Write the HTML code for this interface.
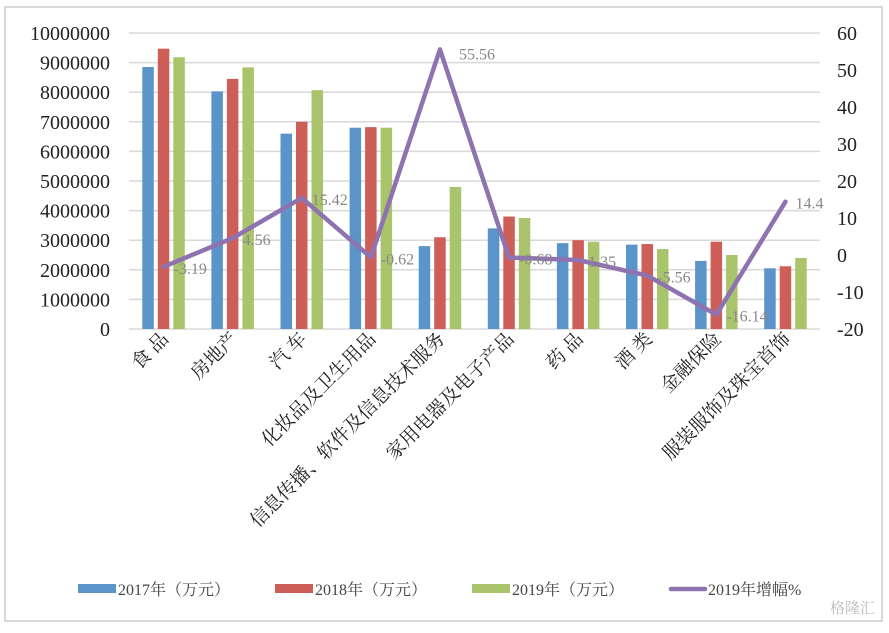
<!DOCTYPE html>
<html><head><meta charset="utf-8"><style>
body{margin:0;background:#fff;}
svg text{font-family:"Liberation Serif","Noto Serif CJK SC",serif;}
</style></head><body>
<svg width="889" height="628" xmlns="http://www.w3.org/2000/svg">
<rect x="5" y="7" width="877" height="614" fill="#fff" stroke="#d9d9d9" stroke-width="2"/>
<g id="grid"></g><g id="bars"></g><g id="line"></g><g id="labels"></g>
<g id="legend"></g>
<text x="875" y="613" font-size="15" fill="#bbb" text-anchor="end">格隆汇</text>
</svg>
<script>
const categories=["食 品","房地产","汽 车","化妆品及卫生用品","信息传播、软件及信息技术服务","家用电器及电子产品","药 品","酒 类","金融保险","服装服饰及珠宝首饰"];
const v2017=[8850000,8030000,6600000,6800000,2800000,3400000,2900000,2850000,2300000,2050000];
const v2018=[9470000,8450000,7000000,6820000,3100000,3800000,3000000,2870000,2950000,2120000];
const v2019=[9180000,8840000,8070000,6800000,4800000,3750000,2950000,2700000,2500000,2400000];
const growth=[-3.19,4.56,15.42,-0.62,55.56,-0.68,-1.35,-5.56,-16.14,14.4];
const growthLabels=["-3.19","4.56","15.42","-0.62","55.56","-0.68","1.35","-5.56","-16.14","14.4"];
const leftTicks=[0,1000000,2000000,3000000,4000000,5000000,6000000,7000000,8000000,9000000,10000000];
const rightTicks=[-20,-10,0,10,20,30,40,50,60];
const NS="http://www.w3.org/2000/svg";
const X0=129,X1=820,Y0=329,Y1=33;
const yL=v=>Y0-(v/10000000)*(Y0-Y1);
const yR=v=>Y0-((v+20)/80)*(Y0-Y1);
const band=(X1-X0)/categories.length;
const xc=i=>X0+band*(i+0.5);
function mk(tag,attrs,parent){const e=document.createElementNS(NS,tag);for(const k in attrs)e.setAttribute(k,attrs[k]);parent.appendChild(e);return e;}
const grid=document.getElementById('grid'),bars=document.getElementById('bars'),line=document.getElementById('line'),labels=document.getElementById('labels'),legend=document.getElementById('legend');
leftTicks.forEach(t=>{
  const g=mk('line',{x1:X0,x2:X1,y1:yL(t),y2:yL(t),stroke:'#d9d9d9','stroke-width':1.5},grid);
  
  
  const tx=mk('text',{x:110,y:yL(t)+7,'font-size':20,'text-anchor':'end',fill:'#222'},labels);
  tx.textContent=t;
  
  
});
rightTicks.forEach(t=>{
  const tx=mk('text',{x:837,y:yR(t)+7,'font-size':20,fill:'#222'},labels);
  tx.textContent=t;
  
  
});
const series=[[v2017,'#5b94c8','bar-2017'],[v2018,'#cd5f58','bar-2018'],[v2019,'#a9c46a','bar-2019']];
const bw=11.5,step=15.5;
categories.forEach((c,i)=>{
  series.forEach((s,j)=>{
    const x=xc(i)+(j-1)*step-bw/2;
    const r=mk('rect',{x:x,y:yL(s[0][i]),width:bw,height:Y0-yL(s[0][i]),fill:s[1]},bars);
    
    
  });
  const t=mk('text',{transform:`translate(${xc(i)+6},${340}) rotate(-45)`,'font-size':19,'text-anchor':'end',fill:'#222'},labels);
  t.textContent=c;
  
  
});
const pts=growth.map((g,i)=>xc(i)+','+yR(g)).join(' ');
const pl=mk('polyline',{points:pts,fill:'none',stroke:'#8e73b0','stroke-width':4.5,'stroke-linejoin':'round','stroke-linecap':'round'},line);


growth.forEach((g,i)=>{
  const t=mk('text',{x:xc(i)+10,y:yR(g)+(i==4?10:7),'font-size':16,fill:'#888'},labels);
  if(i==4) t.setAttribute('x',xc(i)+19);
  t.textContent=growthLabels[i];
  
  
});
const leg=[['2017年（万元）','#5b94c8',78,'rect'],['2018年（万元）','#cd5f58',275,'rect'],['2019年（万元）','#a9c46a',472,'rect'],['2019年增幅%','#8e73b0',668,'line']];
leg.forEach(l=>{
  if(l[3]=='rect'){const r=mk('rect',{x:l[2],y:584,width:38,height:9,fill:l[1]},legend);}
  else{const r=mk('line',{x1:l[2]+3,x2:l[2]+37,y1:589,y2:589,stroke:l[1],'stroke-width':4.5,'stroke-linecap':'round'},legend);}
  const t=mk('text',{x:l[2]+40,y:595,'font-size':16,fill:'#444'},legend);
  t.textContent=l[0];
  
  
});
</script>
</body></html>
